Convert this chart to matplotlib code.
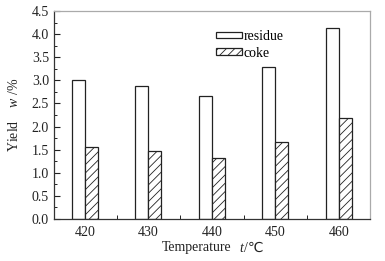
import numpy as np
import matplotlib.pyplot as plt
from matplotlib.ticker import MultipleLocator, FixedLocator

plt.rcParams['font.family'] = ['Liberation Serif', 'DejaVu Serif', 'Noto Sans CJK SC']
plt.rcParams['mathtext.fontset'] = 'custom'
plt.rcParams['mathtext.rm'] = 'Liberation Serif'
plt.rcParams['mathtext.it'] = 'Liberation Serif:italic'
plt.rcParams['hatch.linewidth'] = 0.6
plt.rcParams['hatch.color'] = '#333333'

# Data
temps = ['420', '430', '440', '450', '460']
residue = [3.01, 2.88, 2.66, 3.29, 4.13]
coke = [1.55, 1.46, 1.31, 1.66, 2.19]

x = np.arange(len(temps))
w = 0.205
ink = '#222222'

fig = plt.figure(figsize=(3.85, 2.61), dpi=100)
ax = fig.add_axes([0.140, 0.161, 0.821, 0.797])

ax.bar(x - w / 2, residue, w, facecolor='white', edgecolor=ink,
       linewidth=0.9, label='residue')
ax.bar(x + w / 2, coke, w, facecolor='white', edgecolor=ink,
       linewidth=0.9, hatch='////', label='coke')

ax.set_xlim(-0.49, 4.49)
ax.set_ylim(0, 4.5)
ax.set_xticks(x)
ax.set_xticklabels(temps)
ax.xaxis.set_minor_locator(FixedLocator(x[:-1] + 0.5))
ax.yaxis.set_major_locator(MultipleLocator(0.5))
ax.yaxis.set_minor_locator(MultipleLocator(0.25))
ax.yaxis.set_major_formatter(plt.FormatStrFormatter('%.1f'))

ax.tick_params(which='both', direction='in', labelsize=10, colors=ink)
ax.tick_params(axis='y', which='major', length=4, width=0.8)
ax.tick_params(axis='y', which='minor', length=2, width=0.7)
ax.tick_params(axis='x', which='major', length=0, pad=5)
ax.tick_params(axis='x', which='minor', length=3, width=0.7)

ax.spines['left'].set_color('#333333')
ax.spines['bottom'].set_color('#333333')
ax.spines['top'].set_color('#aaaaaa')
ax.spines['right'].set_color('#aaaaaa')
for s in ax.spines.values():
    s.set_linewidth(0.9)

# x label in pieces so the italic t and the ℃ sign both render
ylab = 1 - 248 / 261
fig.text(162 / 385, ylab, 'Temperature', fontsize=10, color=ink, va='center')
fig.text(239 / 385, ylab, 't', fontsize=10, color=ink, style='italic', va='center')
fig.text(244 / 385, ylab, '/\u2103', fontsize=10, color=ink, va='center',
         family=['Liberation Serif', 'DejaVu Sans', 'Noto Sans CJK SC'])

ax.set_ylabel('Yield    $w$ /%', fontsize=10, color=ink, labelpad=8)

ax.legend(loc='upper left', bbox_to_anchor=(0.495, 0.935), frameon=False,
          fontsize=10, handlelength=1.9, handleheight=0.36, handletextpad=0.1,
          labelspacing=0.25, borderaxespad=0)

fig.savefig('out.png', dpi=100)
